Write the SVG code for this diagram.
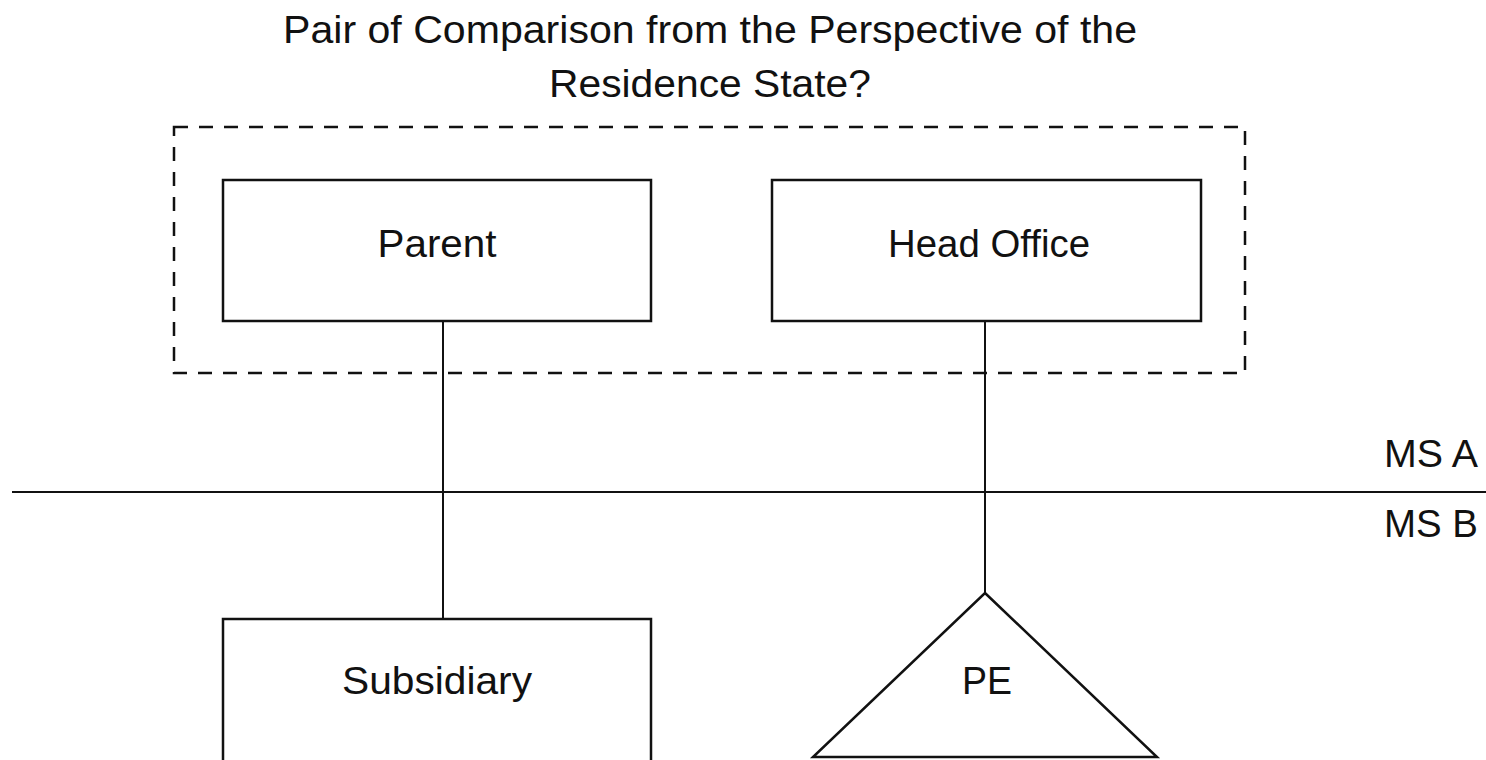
<svg xmlns="http://www.w3.org/2000/svg" width="1486" height="760" viewBox="0 0 1486 760">
<style>
text{font-family:"Liberation Sans",Arial,sans-serif;fill:#111;font-size:38px}
.node{fill:#fff;stroke:#111;stroke-width:2.5}
.conn{stroke:#111;stroke-width:2;fill:none}
.mid{text-anchor:middle}
</style>
<rect width="1486" height="760" fill="#fff"/>
<g id="title">
<text x="710" y="43" class="mid" textLength="854" lengthAdjust="spacingAndGlyphs">Pair of Comparison from the Perspective of the</text>
<text x="710" y="97" class="mid" textLength="322" lengthAdjust="spacingAndGlyphs">Residence State?</text>
</g>
<g id="residence-group">
<rect x="174" y="127" width="1071" height="246" fill="none" stroke="#111" stroke-width="2.5" stroke-dasharray="14 11"/>
</g>
<g id="connectors">
<line class="conn" x1="443" y1="321" x2="443" y2="619"/>
<line class="conn" x1="985" y1="321" x2="985" y2="593"/>
<line class="conn" x1="12" y1="492" x2="1486" y2="492"/>
</g>
<g id="parent">
<rect class="node" x="223" y="180" width="428" height="141"/>
<text x="437" y="257" class="mid" textLength="119" lengthAdjust="spacingAndGlyphs">Parent</text>
</g>
<g id="head-office">
<rect class="node" x="772" y="180" width="429" height="141"/>
<text x="989" y="257" class="mid" textLength="202" lengthAdjust="spacingAndGlyphs">Head Office</text>
</g>
<g id="ms-labels">
<text x="1384" y="467" textLength="94" lengthAdjust="spacingAndGlyphs">MS A</text>
<text x="1384" y="537" textLength="94" lengthAdjust="spacingAndGlyphs">MS B</text>
</g>
<g id="subsidiary">
<rect class="node" x="223" y="619" width="428" height="160"/>
<text x="437" y="694" class="mid" textLength="190" lengthAdjust="spacingAndGlyphs">Subsidiary</text>
</g>
<g id="pe">
<polygon class="node" points="985,593 1157,757 813,757"/>
<text x="987" y="694" class="mid" textLength="50" lengthAdjust="spacingAndGlyphs">PE</text>
</g>
</svg>
